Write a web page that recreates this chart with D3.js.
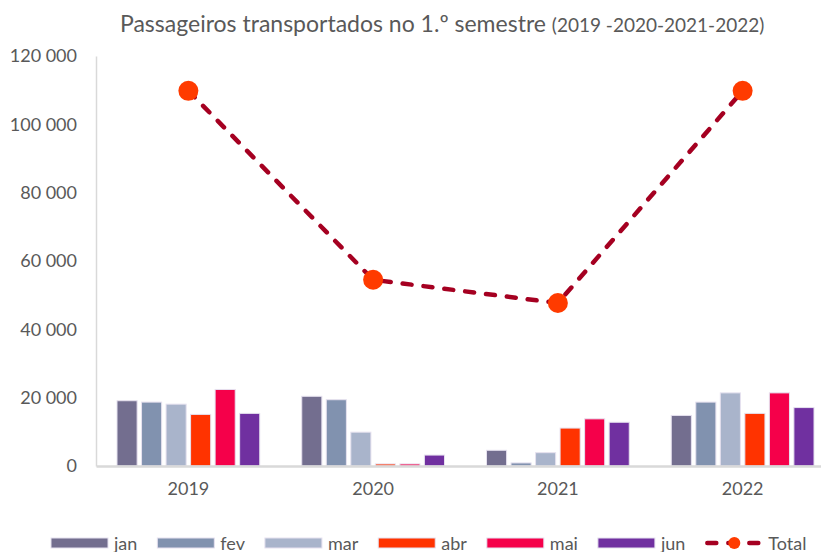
<!DOCTYPE html>
<html>
<head>
<meta charset="utf-8">
<script src="https://cdn.jsdelivr.net/npm/d3@7.9.0/dist/d3.min.js"></script>
<style>
  body { margin: 0; background: #fff; }
  svg { display: block; font-family: Lato, "Open Sans", sans-serif; }
</style>
</head>
<body>
<svg id="chart" width="821" height="552"></svg>
<script>
const years = ['2019', '2020', '2021', '2022'];
const months = ['jan', 'fev', 'mar', 'abr', 'mai', 'jun'];
const jan = [19100, 20400, 4600, 14800];
const fev = [18700, 19400, 900, 18700];
const mar = [18100, 9900, 3900, 21400];
const abr = [15100, 600, 11100, 15400];
const mai = [22400, 600, 13800, 21400];
const jun = [15400, 3200, 12800, 17100];
const totals = [109800, 54500, 47700, 109800];
const yTicks = [0, 20000, 40000, 60000, 80000, 100000, 120000];
const monthColors = ['#736e8f', '#8192af', '#a9b4cb', '#ff3300', '#f5004a', '#7030a0'];

const series = [jan, fev, mar, abr, mai, jun];
let rows = years.map((year, i) => ({
    year: year,
    values: months.map((m, j) => ({ month: m, value: series[j][i] }))
}));

let svg = d3.select('#chart');
let color = d3.scaleOrdinal().domain(months).range(monthColors);

let x0 = d3.scaleBand().domain(years).range([96, 835]);
let x1 = d3.scaleBand().domain(months)
    .range([21, x0.bandwidth() - 21])
    .paddingInner(0.18);
let y = d3.scaleLinear().domain([0, 120000]).range([466, 56]);

let fmt = d3.formatLocale({ decimal: ',', thousands: '\u2009', grouping: [3], currency: ['', ''] }).format(',d');
let fmtSpace = v => fmt(v).replace('\u2009', ' ');

// title
let title = svg.append('text')
    .attr('x', 120)
    .attr('y', 32)
    .attr('fill', '#595959')
    .attr('font-size', 23);
title.append('tspan').text('Passageiros transportados no 1.º semestre ');
title.append('tspan').attr('font-size', 19).text('(2019 -2020-2021-2022)');

// y axis
let yAxis = svg.append('g')
    .attr('transform', 'translate(96,0)')
    .call(d3.axisLeft(y).tickValues(yTicks).tickSize(0).tickPadding(19).tickFormat(fmtSpace));
yAxis.select('.domain').attr('stroke', '#d9d9d9').attr('stroke-width', 1.5);
yAxis.selectAll('text')
    .attr('fill', '#595959')
    .attr('font-size', 18)
    .attr('font-family', 'Lato, sans-serif');

// bars
let groups = svg.append('g')
    .selectAll('g')
    .data(rows)
    .join('g')
    .attr('transform', d => `translate(${x0(d.year)},0)`);

groups.selectAll('rect')
    .data(d => d.values)
    .join('rect')
    .attr('x', d => x1(d.month))
    .attr('y', d => y(d.value))
    .attr('width', x1.bandwidth())
    .attr('height', d => y(0) - y(d.value))
    .attr('fill', d => color(d.month))
    .attr('stroke', '#e6e1ef')
    .attr('stroke-width', 1);

// x axis baseline
let xAxis = svg.append('g')
    .attr('transform', `translate(0,${y(0)})`)
    .call(d3.axisBottom(x0).tickSize(0).tickPadding(16));
xAxis.select('.domain').attr('stroke', '#d9d9d9').attr('stroke-width', 2.5);
xAxis.selectAll('text')
    .attr('fill', '#595959')
    .attr('font-size', 18)
    .attr('font-family', 'Lato, sans-serif');

// total line
let line = d3.line()
    .x((d, i) => x0(years[i]) + x0.bandwidth() / 2)
    .y(d => y(d));

svg.append('path')
    .datum(totals)
    .attr('d', line)
    .attr('fill', 'none')
    .attr('stroke', '#a50021')
    .attr('stroke-width', 4.5)
    .attr('stroke-linecap', 'round')
    .attr('stroke-dasharray', '9 12');

svg.append('g')
    .selectAll('circle')
    .data(totals)
    .join('circle')
    .attr('cx', (d, i) => x0(years[i]) + x0.bandwidth() / 2)
    .attr('cy', d => y(d))
    .attr('r', 10)
    .attr('fill', '#ff3b00');

// legend
let legend = svg.append('g').attr('transform', 'translate(51,543)');
let lx = 0;
months.forEach(m => {
    let item = legend.append('g').attr('transform', `translate(${lx},0)`);
    item.append('rect')
        .attr('x', 0).attr('y', -5)
        .attr('width', 57).attr('height', 10)
        .attr('fill', color(m))
        .attr('stroke', '#e6e1ef');
    let t = item.append('text')
        .attr('x', 63).attr('y', 7)
        .attr('fill', '#595959')
        .attr('font-size', 18)
        .text(m);
    lx += 63 + t.node().getComputedTextLength() + 20;
});
let tot = legend.append('g').attr('transform', `translate(${lx},0)`);
tot.append('line')
    .attr('x1', 2).attr('x2', 56).attr('y1', 0).attr('y2', 0)
    .attr('stroke', '#a50021')
    .attr('stroke-width', 4.5)
    .attr('stroke-linecap', 'round')
    .attr('stroke-dasharray', '9 12');
tot.append('circle')
    .attr('cx', 29).attr('cy', 0).attr('r', 6)
    .attr('fill', '#ff3b00');
tot.append('text')
    .attr('x', 63).attr('y', 7)
    .attr('fill', '#595959')
    .attr('font-size', 18)
    .text('Total');
</script>
</body>
</html>
